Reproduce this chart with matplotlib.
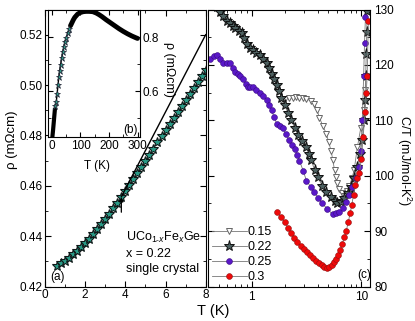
import matplotlib
matplotlib.use("Agg")
import matplotlib.pyplot as plt
from matplotlib.ticker import MultipleLocator, FixedLocator, NullFormatter
from matplotlib.lines import Line2D

plt.rcParams['font.family'] = ['Liberation Sans', 'DejaVu Sans']
plt.rcParams['mathtext.fontset'] = 'custom'
plt.rcParams['mathtext.rm'] = 'Liberation Sans'
plt.rcParams['mathtext.it'] = 'Liberation Sans:italic'

# ---------------- data ----------------
# panel (a): resistivity, x = 0.22 single crystal
T_a = [0.6, 0.8, 1.0, 1.2, 1.4, 1.6, 1.8, 2.0, 2.2, 2.4, 2.6, 2.8, 3.0, 3.2, 3.4, 3.6,
       3.8, 4.0, 4.2, 4.4, 4.6, 4.8, 5.0, 5.2, 5.4, 5.6, 5.8, 6.0, 6.2, 6.4, 6.6, 6.8,
       7.0, 7.2, 7.4, 7.6, 7.8, 8.0]
rho_a = [0.4282, 0.4292, 0.4303, 0.4315, 0.4328, 0.4342, 0.4357, 0.4373, 0.4390, 0.4408,
         0.4427, 0.4447, 0.4467, 0.4488, 0.4510, 0.4533, 0.4556, 0.4580, 0.4604, 0.4628,
         0.4652, 0.4676, 0.4700, 0.4724, 0.4748, 0.4772, 0.4796, 0.4820, 0.4844, 0.4868,
         0.4892, 0.4916, 0.4940, 0.4964, 0.4988, 0.5012, 0.5036, 0.5060]
# fit line in (a)
T_fit = [3.8, 8.0]
rho_fit = [0.4556, 0.5200]
T_arrow = 3.8

# panel (b): inset, resistivity up to 300 K
T_b = [2, 4, 6, 8, 10, 12, 15, 18, 21, 24, 27, 30, 34, 38, 42, 46, 50, 55, 60, 65, 70,
       75, 80, 90, 100, 110, 120, 130, 143, 155, 165, 175, 190, 205, 220, 235, 250, 265,
       280, 295, 300]
rho_b = [0.437, 0.458, 0.482, 0.506, 0.530, 0.545, 0.560, 0.590, 0.622, 0.652, 0.675,
         0.697, 0.722, 0.745, 0.765, 0.783, 0.798, 0.814, 0.829, 0.842, 0.853, 0.864,
         0.873, 0.885, 0.891, 0.894, 0.895, 0.895, 0.894, 0.889, 0.883, 0.876, 0.864,
         0.853, 0.842, 0.831, 0.821, 0.812, 0.804, 0.797, 0.795]

# panel (c): C/T vs T
labels_c = ['0.15', '0.22', '0.25', '0.3']
T_015 = [1.87, 2.0, 2.2, 2.4, 2.55, 2.73, 2.95, 3.16, 3.45, 3.74, 3.95, 4.15, 4.45, 4.8,
         5.05, 5.3, 5.5, 5.7, 5.9, 6.05, 6.3, 6.6, 7.0, 7.4, 7.8, 8.2, 8.6, 9.2, 9.9,
         10.6, 10.9, 11.1]
C_015 = [113.7, 113.9, 114.0, 114.1, 114.2, 114.1, 114.0, 113.9, 113.5, 113.0, 111.8,
         110.5, 109.0, 107.6, 106.0, 104.5, 102.8, 101.0, 99.8, 98.6, 97.6, 96.8, 96.4,
         97.2, 98.2, 99.5, 101.0, 105.1, 108.7, 111.8, 115.4, 118.0]
T_022 = [0.48, 0.51, 0.55, 0.59, 0.63, 0.67, 0.71, 0.76, 0.81, 0.86, 0.91, 0.96, 1.02,
         1.1, 1.18, 1.27, 1.37, 1.45, 1.52, 1.6, 1.69, 1.78, 1.87, 2.0, 2.13, 2.3, 2.46,
         2.63, 2.85, 3.14, 3.3, 3.5, 3.75, 4.0, 4.4, 4.8, 5.3, 5.7, 6.05, 6.5, 7.0, 7.5,
         8.1, 8.6, 9.2, 9.7, 10.2, 10.5, 10.8, 10.95, 11.1, 11.2, 11.3]
C_022 = [130.5, 129.5, 128.8, 128.0, 127.5, 127.0, 126.6, 126.2, 125.7, 124.8, 123.8,
         123.0, 122.6, 122.1, 121.7, 121.0, 120.3, 119.4, 118.4, 117.4, 116.3, 115.2,
         114.1, 112.8, 111.4, 110.0, 108.7, 107.3, 106.2, 105.1, 104.0, 102.8, 101.0,
         99.7, 98.2, 97.0, 96.1, 95.4, 95.0, 95.3, 95.9, 96.8, 97.9, 99.5, 101.5, 104.0,
         106.4, 110.0, 113.6, 118.0, 122.0, 126.0, 129.8]
T_025 = [0.415, 0.45, 0.48, 0.52, 0.545, 0.6, 0.63, 0.67, 0.71, 0.75, 0.79, 0.83, 0.88,
         0.92, 0.97, 1.02, 1.1, 1.18, 1.27, 1.37, 1.45, 1.52, 1.6, 1.69, 1.8, 1.92, 2.05,
         2.2, 2.33, 2.46, 2.6, 2.73, 2.95, 3.16, 3.45, 3.74, 4.05, 4.4, 4.9, 5.5, 5.9,
         6.3, 6.8, 7.3, 7.8, 8.3, 8.9, 9.6, 9.9, 10.2, 10.5, 10.7, 10.9]
C_025 = [121.0, 121.6, 121.7, 121.0, 120.4, 120.4, 120.3, 119.5, 118.8, 118.4, 118.0,
         117.5, 116.6, 116.0, 116.0, 116.0, 115.5, 115.0, 114.3, 113.6, 112.8, 111.8,
         110.6, 109.4, 109.0, 108.7, 107.5, 106.4, 105.6, 104.9, 103.8, 102.7, 100.9,
         99.1, 98.0, 97.0, 96.0, 95.0, 94.0, 93.0, 93.2, 93.4, 94.2, 95.2, 96.5, 97.9,
         99.6, 101.5, 104.5, 110.0, 118.0, 124.0, 128.6]
T_030 = [1.72, 1.85, 2.0, 2.15, 2.3, 2.45, 2.6, 2.8, 3.0, 3.2, 3.4, 3.6, 3.85, 4.1, 4.35,
         4.6, 4.85, 5.1, 5.35, 5.6, 5.85, 6.1, 6.4, 6.7, 7.0, 7.3, 7.6, 7.9, 8.2, 8.5,
         8.8, 9.1, 9.6, 10.0, 10.4, 10.8, 11.1, 11.3, 11.6]
C_030 = [93.4, 92.5, 91.6, 90.6, 89.6, 88.8, 88.1, 87.4, 86.8, 86.3, 85.6, 85.1, 84.6,
         84.2, 83.9, 83.6, 83.4, 83.6, 83.9, 84.4, 85.0, 85.6, 86.5, 87.7, 88.9, 90.1,
         91.6, 93.2, 94.8, 96.6, 98.3, 99.6, 100.4, 103.0, 107.0, 111.5, 115.0, 118.0,
         128.0]

# ---------------- figure ----------------
W, H = 415, 321
fig = plt.figure(figsize=(W / 100, H / 100), dpi=100)

def frac(x0, y0, x1, y1):
    return [x0 / W, 1 - y1 / H, (x1 - x0) / W, (y1 - y0) / H]

FS_T = 8.5
FS_L = 9.5
FS_IN = 8.5

teal = '#2a9a86'

# panel (a)
axa = fig.add_axes(frac(45, 9.5, 205.7, 286.5))
axa.plot(T_a, rho_a, linestyle='none', marker='*', ms=7.5, mfc=teal, mec='#101818',
         mew=0.8)
axa.plot(T_fit, rho_fit, color='black', lw=1.0)
axa.annotate('', xy=(T_arrow, 0.4555), xytext=(T_arrow, 0.4495),
             arrowprops=dict(arrowstyle='-|>', color='black', lw=0.9,
                             mutation_scale=6, shrinkA=0, shrinkB=0))
axa.set_xlim(0, 8)
axa.set_ylim(0.42, 0.53)
axa.xaxis.set_major_locator(MultipleLocator(2))
axa.xaxis.set_minor_locator(MultipleLocator(1))
axa.yaxis.set_major_locator(FixedLocator([0.42, 0.44, 0.46, 0.48, 0.50, 0.52]))
axa.yaxis.set_minor_locator(MultipleLocator(0.01))
axa.yaxis.set_major_formatter(plt.FuncFormatter(lambda v, p: f'{v:.2f}'))
axa.tick_params(which='both', direction='in', top=True, right=True, labelsize=FS_T,
                pad=2)
axa.tick_params(which='major', length=4)
axa.tick_params(which='minor', length=2.5)
axa.text(0.03, 0.033, '(a)', transform=axa.transAxes, fontsize=FS_T, va='center')
axa.text(0.505, 0.177, 'UCo$_{1\u2011x}$Fe$_x$Ge', transform=axa.transAxes,
         fontsize=9, va='center')
axa.text(0.505, 0.116, 'x = 0.22', transform=axa.transAxes, fontsize=9,
         va='center')
axa.text(0.505, 0.063, 'single crystal', transform=axa.transAxes, fontsize=9,
         va='center')

# inset (b)
axb = fig.add_axes(frac(48, 9.5, 139.5, 137))
mask_d = [t >= 65 for t in T_b]
axb.plot(T_b, rho_b, color='black', lw=1.0)
axb.plot([t for t, m in zip(T_b, mask_d) if m], [r for r, m in zip(rho_b, mask_d) if m],
         color='black', lw=3.5, solid_capstyle='round')
axb.plot([t for t in T_b if t < 12], [r for t, r in zip(T_b, rho_b) if t < 12],
         color='black', lw=3.0)
axb.plot([t for t in T_b if 12 <= t < 65], [r for t, r in zip(T_b, rho_b) if 12 <= t < 65],
         linestyle='none', marker='*', ms=5, mfc=teal, mec='#223', mew=0.5)
axb.set_xlim(-14, 307)
axb.set_ylim(0.43, 0.902)
axb.xaxis.set_major_locator(FixedLocator([0, 100, 200, 300]))
axb.xaxis.set_minor_locator(FixedLocator([50, 150, 250]))
axb.yaxis.set_major_locator(FixedLocator([0.6, 0.8]))
axb.yaxis.set_minor_locator(FixedLocator([0.5, 0.7]))
axb.yaxis.tick_right()
axb.tick_params(which='both', direction='in', top=True, left=True, right=True,
                labelsize=FS_IN, pad=2)
axb.tick_params(which='major', length=3.5)
axb.tick_params(which='minor', length=2)
axb.text(0.82, 0.055, '(b)', transform=axb.transAxes, fontsize=FS_IN, va='center')
fig.text(169 / W, 1 - 69 / H, '\u03c1 (m\u03a9cm)', fontsize=9, rotation=270,
         ha='center', va='center')
fig.text(97 / W, 1 - 166 / H, 'T (K)', fontsize=8.5, ha='center', va='center')

# panel (c)
axc = fig.add_axes(frac(208, 9.5, 370, 286.5))
gray_line = dict(color='#777777', lw=0.6)
axc.plot(T_015, C_015, marker='v', ms=5, mfc='white', mec='#666666', mew=0.7, **gray_line)
axc.plot(T_022, C_022, marker='*', ms=8, mfc='#4d6060', mec='#111111', mew=0.7, **gray_line)
axc.plot(T_025, C_025, marker='o', ms=4.2, mfc='#5a18c8', mec='#3a0a80', mew=0.4, **gray_line)
axc.plot(T_030, C_030, marker='o', ms=4.2, mfc='#ee0a0a', mec='#901010', mew=0.4, **gray_line)
axc.set_xscale('log')
axc.set_xlim(0.4, 12)
axc.set_ylim(80, 130)
axc.xaxis.set_major_locator(FixedLocator([1, 10]))
axc.xaxis.set_major_formatter(plt.FuncFormatter(lambda v, p: f'{v:g}'))
axc.xaxis.set_minor_locator(FixedLocator([0.4, 0.5, 0.6, 0.7, 0.8, 0.9, 2, 3, 4, 5, 6,
                                          7, 8, 9]))
axc.xaxis.set_minor_formatter(NullFormatter())
axc.yaxis.set_major_locator(MultipleLocator(10))
axc.yaxis.set_minor_locator(MultipleLocator(5))
axc.yaxis.tick_right()
axc.tick_params(which='both', direction='in', top=True, left=True, right=True,
                labelsize=FS_T, pad=3)
axc.tick_params(which='major', length=4)
axc.tick_params(which='minor', length=2.5)
axc.text(0.92, 0.04, '(c)', transform=axc.transAxes, fontsize=FS_T, va='center')

handles = [
    Line2D([], [], marker='v', ms=5, mfc='white', mec='#666666', mew=0.7, **gray_line),
    Line2D([], [], marker='*', ms=8, mfc='#4d6060', mec='#111111', mew=0.7, **gray_line),
    Line2D([], [], marker='o', ms=4.2, mfc='#5a18c8', mec='#3a0a80', mew=0.4, **gray_line),
    Line2D([], [], marker='o', ms=4.2, mfc='#ee0a0a', mec='#901010', mew=0.4, **gray_line),
]
axc.legend(handles, labels_c, loc='lower left', bbox_to_anchor=(-0.04, -0.025),
           frameon=False, fontsize=9, handlelength=2.8, handletextpad=0.1,
           labelspacing=0.25, borderpad=0.3)

# shared labels
fig.text(12 / W, 1 - 140 / H, '\u03c1 (m\u03a9cm)', fontsize=FS_L, rotation=90,
         ha='center', va='center')
fig.text(213 / W, 1 - 311 / H, 'T (K)', fontsize=10.5, ha='center', va='center')
fig.text(404 / W, 1 - 161 / H, 'C/T (mJ/mol-K$^2$)', fontsize=9, rotation=270,
         ha='center', va='center')

fig.savefig('out.png', dpi=100)
